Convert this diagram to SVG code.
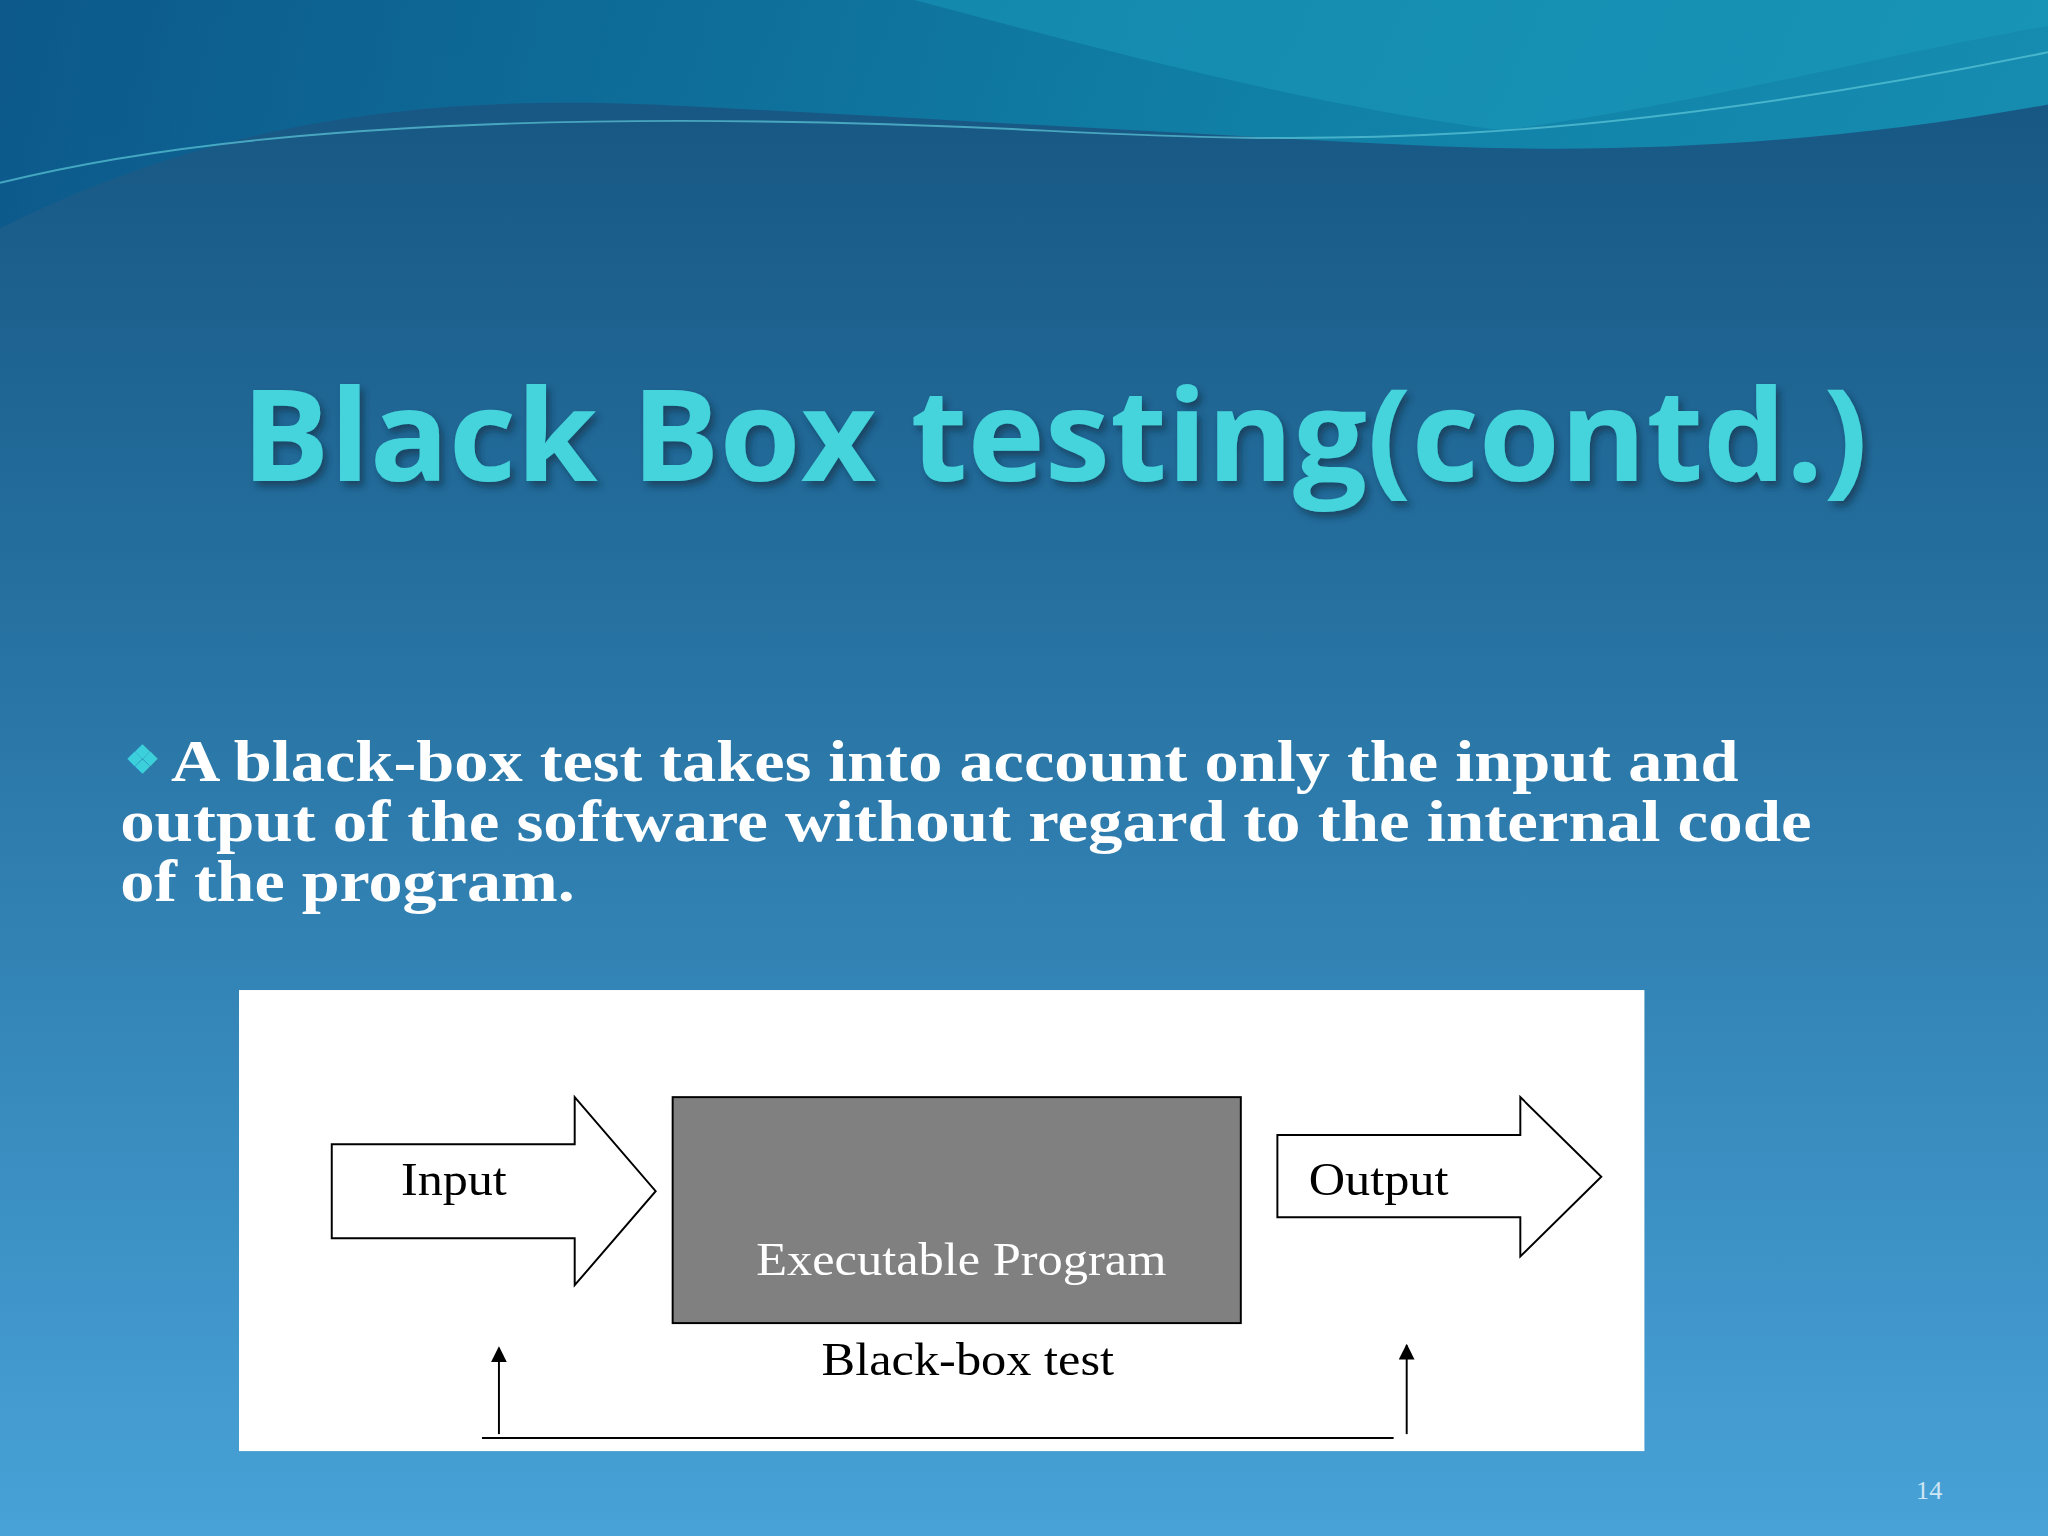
<svg xmlns="http://www.w3.org/2000/svg" width="2048" height="1536" viewBox="0 0 2048 1536">
<defs>
<linearGradient id="bg" x1="0" y1="0" x2="0" y2="1">
<stop offset="0" stop-color="#15527e"/><stop offset="0.35" stop-color="#236d9c"/><stop offset="1" stop-color="#48a2d7"/>
</linearGradient>
<linearGradient id="wave" x1="0" y1="0" x2="1" y2="0">
<stop offset="0" stop-color="#0a5a8c"/><stop offset="0.6" stop-color="#0f86ab"/><stop offset="1" stop-color="#1596b8"/>
</linearGradient>
<filter id="sh"><feDropShadow dx="3" dy="4" stdDeviation="3" flood-color="#0a2a40" flood-opacity="0.6"/></filter>
<marker id="ah" viewBox="0 0 10 10" refX="9" refY="5" markerWidth="16" markerHeight="12" markerUnits="userSpaceOnUse" orient="auto"><path d="M0,0L10,5L0,10z" fill="#000"/></marker>
<style>
.lbl{font-family:"Liberation Serif",serif;font-size:36px;fill:#000}
.shape{fill:#fff;stroke:#000;stroke-width:1.5}
.ln{stroke:#000;stroke-width:1.5;fill:none}
</style>
</defs>
<g transform="scale(1.30612)">
<rect width="1568" height="1176" fill="url(#bg)"/>
<path d="M0,0H1568V80C1400,110 1250,118 1100,112C900,102 700,90 500,80C300,72 150,100 0,175Z" fill="url(#wave)" opacity="0.85"/>
<path d="M700,0C850,40 1000,80 1150,100C1300,80 1450,40 1568,20V0Z" fill="#1a9bbd" opacity="0.5"/>
<path d="M0,140C200,90 500,85 800,100C1000,110 1200,115 1568,40" stroke="#5cc8d8" stroke-width="1.5" fill="none" opacity="0.7"/>
<g id="title"><text x="185" y="368" font-family="Open Sans,Liberation Sans,sans-serif" font-weight="bold" font-size="98" fill="#44d3dc" filter="url(#sh)" textLength="1245" lengthAdjust="spacingAndGlyphs">Black Box testing(contd.)</text></g>
<g id="body" font-family="Liberation Serif,serif" font-weight="bold" font-size="46" fill="#fff">
<text x="96" y="592" font-size="30" fill="#3cd0dc">❖</text>
<text x="131" y="598" textLength="1200" lengthAdjust="spacingAndGlyphs">A black-box test takes into account only the input and</text>
<text x="92" y="644" textLength="1295" lengthAdjust="spacingAndGlyphs">output of the software without regard to the internal code</text>
<text x="92" y="690" textLength="348" lengthAdjust="spacingAndGlyphs">of the program.</text>
</g>
<rect x="183" y="758" width="1076" height="353" fill="#fff"/>
<g id="input"><polygon class="shape" points="254,876 440,876 440,840 502,912 440,984 440,948 254,948"/><text class="lbl" x="307" y="915" textLength="81" lengthAdjust="spacingAndGlyphs">Input</text></g>
<g id="program"><rect x="515" y="840" width="435" height="173" fill="#808080" stroke="#000" stroke-width="1.5"/><text class="lbl" x="579" y="976" style="fill:#fff" textLength="314" lengthAdjust="spacingAndGlyphs">Executable Program</text></g>
<g id="output"><polygon class="shape" points="978,869 1164,869 1164,840 1226,901 1164,962 1164,932 978,932"/><text class="lbl" x="1002" y="915" textLength="107" lengthAdjust="spacingAndGlyphs">Output</text></g>
<g id="label"><text class="lbl" x="629" y="1053" textLength="224" lengthAdjust="spacingAndGlyphs">Black-box test</text></g>
<g id="connectors">
<line class="ln" x1="369" y1="1101" x2="1067" y2="1101"/>
<line class="ln" x1="382" y1="1098" x2="382" y2="1032" marker-end="url(#ah)"/>
<line class="ln" x1="1077" y1="1098" x2="1077" y2="1030" marker-end="url(#ah)"/>
</g>
<text x="1467" y="1148" font-family="Liberation Serif,serif" font-size="20" fill="#cfe6f5">14</text>
</g>
</svg>
